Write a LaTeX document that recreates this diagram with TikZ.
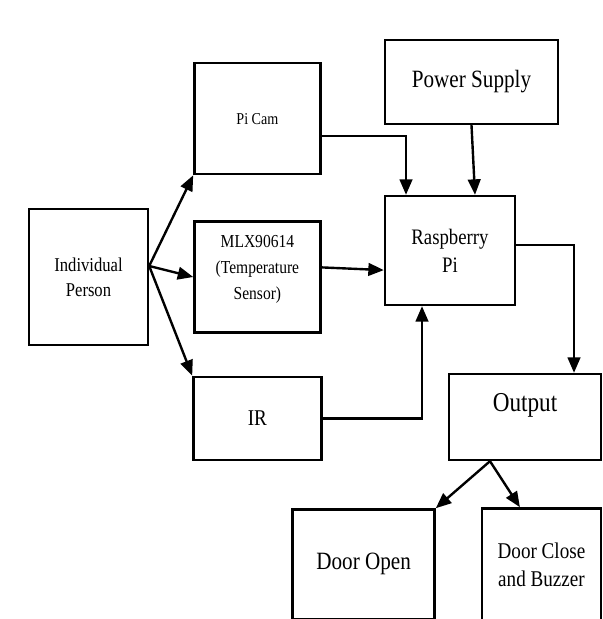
\documentclass[tikz,border=0pt]{standalone}
\usepackage{fontspec}
\setmainfont{Liberation Serif}[FakeStretch=0.85]
\usetikzlibrary{positioning,arrows.meta}

\begin{document}
\begin{tikzpicture}[
		blk/.style={draw, line width=1.7pt, align=center, inner sep=0pt},
		con/.style={line width=1.7pt, -{Triangle[length=11pt,width=9pt]}}
		]
			\useasboundingbox[fill=white] (0,0) rectangle (15.075,-15.475);
			%% blocks
			\node[blk, minimum width=2.975cm, minimum height=3.4cm, font=\fontsize{13.9}{17.8}\selectfont] (person) at (2.2125,-6.925) {Individual\\Person};
			\node[blk, right=1.1cm of person, minimum width=3.15cm, minimum height=2.775cm, text depth=0.5cm, font=\fontsize{13}{18.5}\selectfont] (mlx) {MLX90614\\(Temperature\\Sensor)};
			\node[blk, above=1.125cm of mlx, minimum width=3.15cm, minimum height=2.775cm, font=\fontsize{11.8}{14}\selectfont] (cam) {Pi Cam};
			\node[blk, below=1.05cm of mlx, minimum width=3.2cm, minimum height=2.075cm, font=\fontsize{16}{19}\selectfont] (ir) {IR};
			\node[blk, minimum width=4.325cm, minimum height=2.1cm, font=\fontsize{17.7}{21}\selectfont] (power) at (11.7875,-2.05) {Power Supply};
			\node[blk, minimum width=3.25cm, minimum height=2.725cm, font=\fontsize{15.7}{20}\selectfont] (pi) at (11.25,-6.2625) {Raspberry\\Pi};
			\node[blk, minimum width=3.8cm, minimum height=2.15cm, text depth=0.75cm, font=\fontsize{19.4}{23}\selectfont] (out) at (13.125,-10.425) {Output};
			\node[blk, below left=1.175cm and 0.3cm of out, minimum width=3.55cm, minimum height=2.75cm, font=\fontsize{17.7}{21}\selectfont] (open) {Door Open};
			\node[blk, right=1.125cm of open, minimum width=2.975cm, minimum height=2.8cm, font=\fontsize{16}{20}\selectfont] (close) {Door Close\\and Buzzer};
			\coordinate (fork) at ([yshift=0.275cm]person.east);
			\coordinate (split) at ([xshift=-0.875cm]out.south);
			% connections
			\draw[con] (fork) -- (cam.south west);
			\draw[con] (fork) -- (mlx.west);
			\draw[con] (fork) -- (ir.north west);
			\draw[con] ([yshift=-0.44cm]cam.east) -| ([xshift=-1.1cm]pi.north);
			\draw[con] (power.south) -- ([xshift=0.625cm]pi.north);
			\draw[con] ([yshift=0.24cm]mlx.east) -- ([yshift=-0.49cm]pi.west);
			\draw[con] (ir.east) -| ([xshift=-0.7cm]pi.south);
			\draw[con] ([yshift=0.14cm]pi.east) -| ([xshift=1.225cm]out.north);
			\draw[con] (split) -- (open.north east);
			\draw[con] (split) -- ([xshift=-0.54cm]close.north);
		\end{tikzpicture}
\end{document}
